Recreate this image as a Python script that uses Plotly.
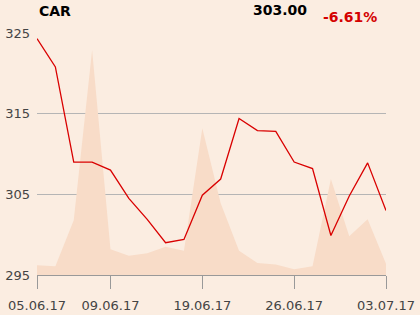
import plotly.graph_objects as go

dates = ["05.06.17","06.06.17","07.06.17","08.06.17","09.06.17","12.06.17","13.06.17","14.06.17",
         "16.06.17","19.06.17","20.06.17","21.06.17","22.06.17","23.06.17","26.06.17","27.06.17",
         "28.06.17","29.06.17","30.06.17","03.07.17"]
price = [324.3, 320.8, 309.0, 309.0, 308.0, 304.5, 301.9, 299.0, 299.4, 304.9,
         306.9, 314.4, 312.9, 312.8, 309.0, 308.2, 299.9, 304.8, 308.9, 303.0]
volume_shade = [296.2, 296.1, 301.8, 322.9, 298.2, 297.4, 297.7, 298.5, 298.0, 313.2,
                303.9, 298.0, 296.5, 296.3, 295.7, 296.1, 306.9, 299.8, 301.9, 296.4]
tick_labels = ["05.06.17", "09.06.17", "19.06.17", "26.06.17", "03.07.17"]
y_ticks = [295, 305, 315, 325]

x = list(range(len(dates)))
tick_idx = [dates.index(t) for t in tick_labels]

W, H, L, R, T, B = 420, 315, 37, 34, 33, 40

fig = go.Figure()
fig.add_trace(go.Scatter(x=x, y=volume_shade, mode="lines", line=dict(width=0),
                         fill="tozeroy", fillcolor="#f8dcc8", hoverinfo="skip"))
fig.add_trace(go.Scatter(x=x, y=price, mode="lines", line=dict(color="#d90000", width=1.3)))

fig.update_layout(
    width=W, height=H, showlegend=False,
    paper_bgcolor="#fbede1", plot_bgcolor="#fbede1",
    margin=dict(l=L, r=R, t=T, b=B, autoexpand=False),
    font=dict(family="DejaVu Sans", size=13, color="#333333"),
    xaxis=dict(range=[0, len(dates) - 1], tickmode="array", tickvals=tick_idx, ticktext=tick_labels,
               showgrid=False, zeroline=False, showline=True, linecolor="#999999", linewidth=1,
               ticks="outside", ticklen=13, tickcolor="#999999", automargin=False,
               ticklabelstandoff=5, tickfont=dict(size=13, color="#444444")),
    yaxis=dict(range=[295, 325], tickvals=y_ticks, showgrid=True, gridcolor="#b5b5b5", gridwidth=1,
               zeroline=False, showline=False, ticks="", automargin=False, ticklabelstandoff=6,
               tickfont=dict(size=13, color="#444444")),
)
pw, ph = W - L - R, H - T - B
def px(xp): return (xp - L) / pw
def py(yp): return (H - B - yp) / ph
fig.add_annotation(text="<b>CAR</b>", x=px(37), y=py(11), xref="paper", yref="paper", showarrow=False,
                   xanchor="left", yanchor="middle", font=dict(size=14, color="#000000"))
fig.add_annotation(text="<b>303.00</b>", x=px(309), y=py(10), xref="paper", yref="paper", showarrow=False,
                   xanchor="right", yanchor="middle", font=dict(size=14, color="#000000"))
fig.add_annotation(text="<b>-6.61%</b>", x=px(379), y=py(17), xref="paper", yref="paper", showarrow=False,
                   xanchor="right", yanchor="middle", font=dict(size=14, color="#d40000"))

fig.write_html("out.html")
